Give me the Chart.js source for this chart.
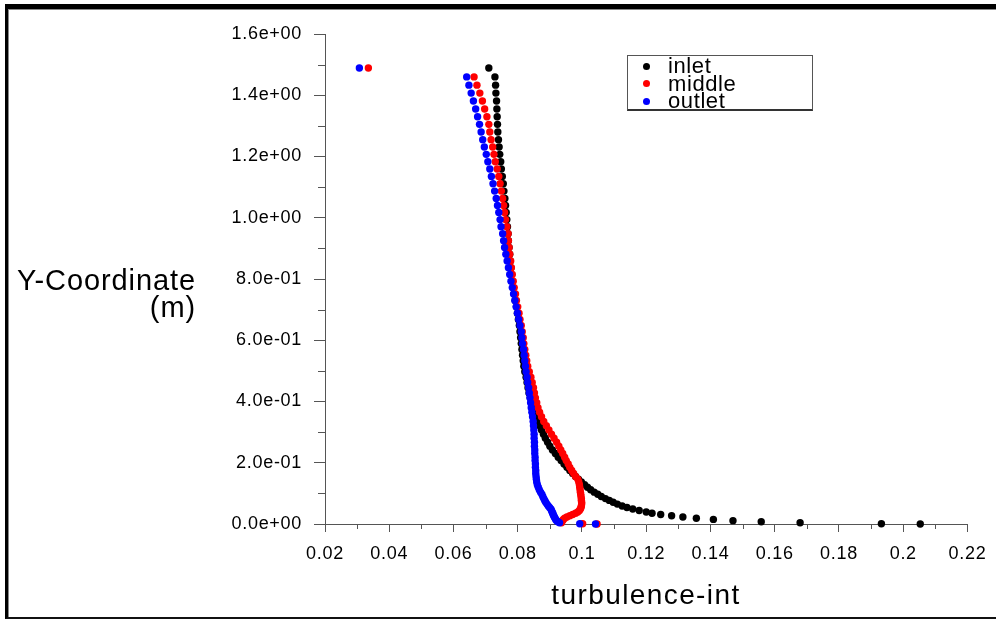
<!DOCTYPE html>
<html>
<head>
<meta charset="utf-8">
<script src="https://cdn.jsdelivr.net/npm/chart.js@4.4.1/dist/chart.umd.min.js"></script>
<style>
  html, body { margin: 0; padding: 0; background: #fff; }
  #wrap { position: relative; width: 996px; height: 619px; overflow: hidden; background: #fff; }
  #chart { position: absolute; left: 0; top: 0; }
  #frame { position: absolute; left: 5px; top: 4px; width: 1010px; height: 615px; box-sizing: border-box;
           border-left: 3px solid #000; border-top: 5px solid #000; border-bottom: 2px solid #111;
           box-shadow: inset 1px 1px 0 #888; pointer-events: none; }
  .txt { position: absolute; font-family: "Liberation Sans", Arial, sans-serif; color: #000; white-space: nowrap; }
  #ytitle { right: 800px; top: 267px; font-size: 29px; line-height: 27px; letter-spacing: 0.9px; text-align: right; }
  #xtitle { left: 446px; width: 400px; top: 580px; font-size: 28px; line-height: 30px; letter-spacing: 1.4px; text-align: center; }
  #legend { position: absolute; left: 627px; top: 55px; width: 186px; height: 56px; box-sizing: border-box;
            border: 1px solid #555; border-bottom: 2px solid #333; background: #fff; }
  .dot { position: absolute; width: 7px; height: 7px; border-radius: 50%; }
  .lab { font-size: 22px; line-height: 18px; letter-spacing: 0.6px; }
</style>
</head>
<body>
<div id="wrap">
  <canvas id="chart" width="996" height="619"></canvas>
  <div id="frame"></div>
  <div id="ytitle" class="txt">Y-Coordinate<br>(m)</div>
  <div id="xtitle" class="txt">turbulence-int</div>
  <div id="legend"></div>
</div>
<script>
// y positions of the sampled nodes (m), shared by the three profiles
const yCoord = [
  0, 0.0008, 0.004, 0.0075, 0.011, 0.015, 0.019, 0.023, 0.027, 0.031, 0.035, 0.039, 0.044, 0.049, 0.054, 0.059, 0.065, 0.071, 0.077, 0.083, 0.090, 0.097,
  0.104, 0.112, 0.120, 0.128, 0.137, 0.146, 0.155, 0.165, 0.175, 0.185, 0.196, 0.207, 0.218, 0.230, 0.242, 0.254, 0.267, 0.280, 0.293,
  0.307, 0.321, 0.335, 0.350, 0.365, 0.380, 0.396, 0.412, 0.428, 0.445, 0.462, 0.479, 0.497, 0.515, 0.533, 0.551, 0.570, 0.589,
  0.608, 0.628, 0.648, 0.668, 0.688, 0.709, 0.730, 0.751, 0.772, 0.793, 0.815, 0.837, 0.859, 0.881, 0.903, 0.925, 0.948, 0.971, 0.994,
  1.017, 1.040, 1.063, 1.087, 1.111, 1.135, 1.159, 1.183, 1.207, 1.231, 1.255, 1.280, 1.305, 1.330, 1.355, 1.381, 1.407, 1.433, 1.460,
  1.489
];

// turbulence intensity at each node
const inlet = [
  0.2053, 0.1932, 0.1679, 0.1558, 0.1470, 0.1409, 0.1356, 0.1314, 0.1279, 0.1245, 0.1218, 0.1200, 0.1178, 0.1158, 0.1140, 0.1125, 0.1110, 0.1097, 0.1085, 0.1073, 0.1060, 0.1049,
  0.1038, 0.1027, 0.1017, 0.1008, 0.0998, 0.0989, 0.0980, 0.0971, 0.0962, 0.0953, 0.0944, 0.0935, 0.0926, 0.0917, 0.0908, 0.0900, 0.0893, 0.0886, 0.0880,
  0.0874, 0.0868, 0.0863, 0.0857, 0.0852, 0.0847, 0.0843, 0.0839, 0.0835, 0.0832, 0.0829, 0.0826, 0.0822, 0.0819, 0.0817, 0.0815, 0.0813, 0.0811,
  0.0809, 0.0807, 0.0805, 0.0802, 0.0799, 0.0796, 0.0792, 0.0789, 0.0786, 0.0783, 0.0781, 0.0779, 0.0777, 0.0775, 0.0773, 0.0771, 0.0770, 0.0768, 0.0766,
  0.0764, 0.0762, 0.0760, 0.0757, 0.0755, 0.0752, 0.0749, 0.0747, 0.0744, 0.0742, 0.0740, 0.0738, 0.0737, 0.0736, 0.0735, 0.0734, 0.0732, 0.0731, 0.0729,
  0.0710
];
const middle = [
  0.1047, 0.1002, 0.0936, 0.0937, 0.0939, 0.0942, 0.0946, 0.0953, 0.0962, 0.0971, 0.0980, 0.0987, 0.0992, 0.0995, 0.0997, 0.0998, 0.0999, 0.0999, 0.0998, 0.0998, 0.0997, 0.0996,
  0.0995, 0.0994, 0.0993, 0.0992, 0.0990, 0.0987, 0.0980, 0.0974, 0.0968, 0.0962, 0.0957, 0.0951, 0.0946, 0.0940, 0.0934, 0.0928, 0.0921, 0.0913, 0.0905,
  0.0897, 0.0889, 0.0881, 0.0874, 0.0868, 0.0863, 0.0859, 0.0855, 0.0852, 0.0849, 0.0845, 0.0841, 0.0836, 0.0831, 0.0828, 0.0825, 0.0822, 0.0819,
  0.0817, 0.0814, 0.0811, 0.0807, 0.0804, 0.0800, 0.0796, 0.0793, 0.0789, 0.0786, 0.0783, 0.0780, 0.0778, 0.0775, 0.0773, 0.0771, 0.0770, 0.0766, 0.0762,
  0.0759, 0.0756, 0.0753, 0.0749, 0.0745, 0.0741, 0.0736, 0.0730, 0.0726, 0.0722, 0.0717, 0.0713, 0.0710, 0.0704, 0.0697, 0.0690, 0.0682, 0.0673, 0.0664,
  0.0335
];
const outlet = [
  0.1042, 0.0993, 0.0930, 0.0925, 0.0921, 0.0918, 0.0916, 0.0914, 0.0912, 0.0910, 0.0909, 0.0907, 0.0905, 0.0903, 0.0899, 0.0895, 0.0891, 0.0887, 0.0884, 0.0881, 0.0878, 0.0875,
  0.0871, 0.0867, 0.0864, 0.0861, 0.0859, 0.0858, 0.0857, 0.0856, 0.0856, 0.0855, 0.0855, 0.0854, 0.0854, 0.0853, 0.0853, 0.0852, 0.0852, 0.0851, 0.0851,
  0.0850, 0.0849, 0.0848, 0.0846, 0.0844, 0.0842, 0.0840, 0.0838, 0.0836, 0.0834, 0.0831, 0.0829, 0.0826, 0.0824, 0.0822, 0.0820, 0.0818, 0.0815,
  0.0813, 0.0811, 0.0807, 0.0803, 0.0799, 0.0795, 0.0791, 0.0787, 0.0783, 0.0779, 0.0775, 0.0771, 0.0767, 0.0763, 0.0759, 0.0756, 0.0753, 0.0748, 0.0745,
  0.0741, 0.0737, 0.0733, 0.0728, 0.0723, 0.0718, 0.0713, 0.0707, 0.0702, 0.0696, 0.0691, 0.0686, 0.0681, 0.0675, 0.0669, 0.0662, 0.0655, 0.0648, 0.0641,
  0.0307
];

const seriesNames = ["inlet", "middle", "outlet"];
const seriesColors = ["#000000", "#ff0000", "#0000ff"];
const xTickLabels = ["0.02", "0.04", "0.06", "0.08", "0.1", "0.12", "0.14", "0.16", "0.18", "0.2", "0.22"];
const yTickLabels = ["0.0e+00", "2.0e-01", "4.0e-01", "6.0e-01", "8.0e-01", "1.0e+00", "1.2e+00", "1.4e+00", "1.6e+00"];

const axisColor = "#555";
const tickFont = { family: "'Liberation Sans', Arial, sans-serif", size: 18 };

function toPoints(xs) {
  return xs.map((v, i) => ({ x: v, y: yCoord[i] }));
}

// minor ticks between the labelled ones
const minorTicks = {
  id: "minorTicks",
  beforeDatasetsDraw(chart) {
    const { ctx, scales: { x, y } } = chart;
    ctx.save();
    ctx.strokeStyle = axisColor;
    ctx.lineWidth = 1;
    ctx.beginPath();
    for (let i = 0; i < xTickLabels.length - 1; i++) {
      const px = Math.round(x.getPixelForValue(0.03 + i * 0.02)) + 0.5;
      ctx.moveTo(px, y.bottom);
      ctx.lineTo(px, y.bottom + 5);
    }
    for (let i = 0; i < yTickLabels.length - 1; i++) {
      const py = Math.round(y.getPixelForValue(0.1 + i * 0.2)) + 0.5;
      ctx.moveTo(x.left - 7, py);
      ctx.lineTo(x.left, py);
    }
    ctx.stroke();
    ctx.restore();
  }
};

const wideText = {
  id: "wideText",
  beforeDraw(chart) { chart.ctx.letterSpacing = "0.7px"; }
};

const datasets = [inlet, middle, outlet].map((xs, i) => ({
  label: seriesNames[i],
  data: toPoints(xs),
  backgroundColor: seriesColors[i],
  borderColor: seriesColors[i],
  pointRadius: 3.7,
  pointBorderWidth: 0,
  pointHoverRadius: 3.7,
  showLine: false,
  clip: false,
  order: 3 - i
}));

new Chart(document.getElementById("chart").getContext("2d"), {
  type: "scatter",
  data: { datasets: datasets },
  options: {
    responsive: false,
    animation: false,
    layout: { padding: { top: 34, right: 28, bottom: 0, left: 0 } },
    plugins: {
      legend: { display: false },
      tooltip: { enabled: false }
    },
    scales: {
      x: {
        type: "linear",
        min: 0.02,
        max: 0.22,
        border: { display: true, color: axisColor },
        grid: { drawOnChartArea: false, tickLength: 8, color: axisColor },
        ticks: {
          stepSize: 0.02,
          padding: 11,
          color: "#000",
          font: tickFont,
          maxRotation: 0,
          autoSkip: false,
          callback: (v) => xTickLabels[Math.round((v - 0.02) / 0.02)]
        },
        afterFit: (s) => { s.height = 95; }
      },
      y: {
        type: "linear",
        min: 0,
        max: 1.6,
        border: { display: true, color: axisColor },
        grid: { drawOnChartArea: false, tickLength: 11, color: axisColor },
        ticks: {
          stepSize: 0.2,
          padding: 12,
          color: "#000",
          font: tickFont,
          autoSkip: false,
          callback: (v) => yTickLabels[Math.round(v / 0.2)]
        },
        afterFit: (s) => { s.width = 325; }
      }
    }
  },
  plugins: [minorTicks, wideText]
});

// legend box
const legend = document.getElementById("legend");
seriesNames.forEach((name, i) => {
  const cy = 10 + i * 17.5;
  const dot = document.createElement("div");
  dot.className = "dot";
  dot.style.background = seriesColors[i];
  dot.style.left = "15px";
  dot.style.top = (cy - 3.5) + "px";
  legend.appendChild(dot);
  const lab = document.createElement("div");
  lab.className = "txt lab";
  lab.textContent = name;
  lab.style.left = "40px";
  lab.style.top = (cy - 9) + "px";
  legend.appendChild(lab);
});
</script>
</body>
</html>
